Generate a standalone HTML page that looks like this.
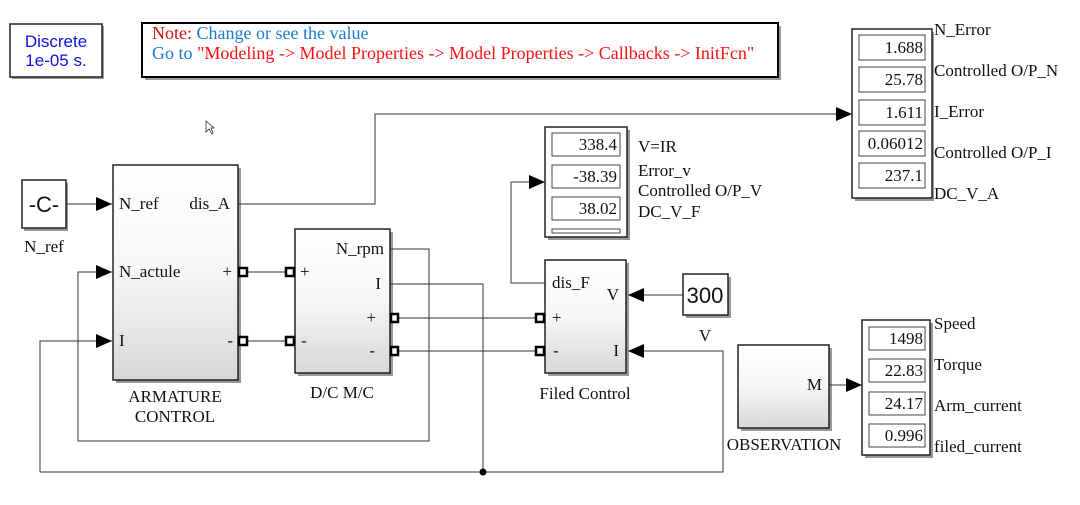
<!DOCTYPE html>
<html><head><meta charset="utf-8"><style>
body{margin:0;background:#fff;width:1080px;height:500px;overflow:hidden}
svg text{font-family:"Liberation Serif",serif;font-size:17px;fill:#111}
.s{font-family:"Liberation Sans",sans-serif}
</style></head><body>
<svg width="1080" height="500" viewBox="0 0 1080 500">
<defs>
<linearGradient id="g" x1="0" y1="0" x2="0" y2="1"><stop offset="0" stop-color="#fff"/><stop offset="0.5" stop-color="#f6f6f6"/><stop offset="1" stop-color="#d8d8d8"/></linearGradient>
<marker id="a" markerWidth="16" markerHeight="14" refX="16" refY="7" orient="auto" markerUnits="userSpaceOnUse"><path d="M0,0 L16,7 L0,14 Z" fill="#000"/></marker>
</defs>
<g fill="#999"><rect x="12" y="26" width="92" height="53"/><rect x="145" y="26" width="636" height="54"/>
<rect x="24" y="183" width="44" height="48"/><rect x="116" y="168" width="125" height="215"/><rect x="298" y="232" width="95" height="144"/><rect x="548" y="263" width="81" height="113"/><rect x="686" y="277" width="45" height="41"/><rect x="548" y="130" width="82" height="110"/><rect x="855" y="32" width="79" height="169"/><rect x="741" y="348" width="91" height="83"/><rect x="865" y="323" width="68" height="135"/></g>
<rect x="10" y="24" width="92" height="53" fill="#fff" stroke="#222" stroke-width="1.5"/>
<text x="56" y="47" text-anchor="middle" class="s" style="fill:#1010e0;font-size:17px">Discrete</text>
<text x="56" y="66" text-anchor="middle" class="s" style="fill:#1010e0;font-size:17px">1e-05 s.</text>
<rect x="142" y="23" width="636" height="54" fill="#fff" stroke="#000" stroke-width="2"/>
<text x="152" y="39" style="font-size:18px"><tspan style="fill:#d01010">Note: </tspan><tspan style="fill:#1a7ad0">Change or see the value</tspan></text>
<text x="152" y="59" style="font-size:18px"><tspan style="fill:#1a7ad0">Go to </tspan><tspan style="fill:#ff1010">"Modeling -&gt; Model Properties -&gt; Model Properties -&gt; Callbacks -&gt; InitFcn"</tspan></text>
<g fill="none" stroke="#333" stroke-width="1">
<path d="M66,204 H112" marker-end="url(#a)"/>
<path d="M238,204 H375 V114 H852" marker-end="url(#a)"/>
<path d="M390,249 H429 V441 H78 V272 H112" marker-end="url(#a)"/>
<path d="M390,284 H483 V472"/>
<path d="M40,472 V341 H112" marker-end="url(#a)"/>
<path d="M40,472 H723 V351 H628" marker-end="url(#a)"/>
<path d="M248,272 H285 M248,341 H285 M398,318 H535 M398,351 H535"/>
<path d="M545,283 H511 V182 H545" marker-end="url(#a)"/>
<path d="M683,295 H628" marker-end="url(#a)"/>
<path d="M829,385 H862" marker-end="url(#a)"/>
</g>
<circle cx="483" cy="472" r="3.5" fill="#000"/>
<rect x="22" y="180" width="44" height="48" fill="#fff" stroke="#222" stroke-width="1.5"/>
<text x="44" y="212" text-anchor="middle" class="s" style="font-size:22px">-C-</text>
<text x="44" y="252" text-anchor="middle">N_ref</text>
<rect x="113" y="165" width="125" height="215" fill="url(#g)" stroke="#222" stroke-width="1.5"/>
<text x="119" y="209">N_ref</text><text x="119" y="277">N_actule</text><text x="119" y="346">I</text>
<text x="230" y="209" text-anchor="end">dis_A</text><text x="232" y="277" text-anchor="end">+</text><text x="233" y="346" text-anchor="end">-</text>
<text x="175" y="402" text-anchor="middle">ARMATURE</text><text x="175" y="422" text-anchor="middle">CONTROL</text>
<rect x="295" y="229" width="95" height="144" fill="url(#g)" stroke="#222" stroke-width="1.5"/>
<text x="300" y="277">+</text><text x="301" y="346">-</text>
<text x="384" y="254" text-anchor="end">N_rpm</text><text x="381" y="289" text-anchor="end">I</text><text x="376" y="323" text-anchor="end">+</text><text x="375" y="356" text-anchor="end">-</text>
<text x="342" y="398" text-anchor="middle">D/C M/C</text>
<rect x="545" y="260" width="81" height="113" fill="url(#g)" stroke="#222" stroke-width="1.5"/>
<text x="552" y="288">dis_F</text><text x="552" y="323">+</text><text x="553" y="356">-</text>
<text x="619" y="300" text-anchor="end">V</text><text x="619" y="356" text-anchor="end">I</text>
<text x="585" y="399" text-anchor="middle">Filed Control</text>
<g fill="#fff" stroke="#000" stroke-width="2.5">
<rect x="239" y="268" width="8" height="8"/><rect x="239" y="337" width="8" height="8"/>
<rect x="286" y="268" width="8" height="8"/><rect x="286" y="337" width="8" height="8"/>
<rect x="391" y="314" width="7" height="8"/><rect x="391" y="347" width="7" height="8"/>
<rect x="536" y="314" width="8" height="8"/><rect x="536" y="347" width="8" height="8"/>
</g>
<rect x="683" y="274" width="45" height="41" fill="#fff" stroke="#222" stroke-width="1.5"/>
<text x="705" y="303" text-anchor="middle" class="s" style="font-size:22px">300</text>
<text x="705" y="341" text-anchor="middle">V</text>
<rect x="545" y="127" width="82" height="110" fill="#fff" stroke="#222" stroke-width="1.5"/>
<g fill="#fff" stroke="#444"><rect x="552" y="133" width="68" height="23"/><rect x="552" y="165" width="68" height="23"/><rect x="552" y="197" width="68" height="23"/><rect x="552" y="229" width="68" height="4"/></g>
<text x="617" y="150" text-anchor="end">338.4</text><text x="617" y="182" text-anchor="end">-38.39</text><text x="617" y="214" text-anchor="end">38.02</text>
<text x="638" y="152">V=IR</text><text x="638" y="176">Error_v</text><text x="638" y="196">Controlled O/P_V</text><text x="638" y="217">DC_V_F</text>
<rect x="852" y="29" width="80" height="169" fill="#fff" stroke="#222" stroke-width="1.5"/>
<g fill="#fff" stroke="#444"><rect x="859" y="35" width="66" height="25"/><rect x="859" y="67" width="66" height="25"/><rect x="859" y="100" width="66" height="25"/><rect x="859" y="131" width="66" height="25"/><rect x="859" y="163" width="66" height="25"/></g>
<text x="923" y="53" text-anchor="end">1.688</text><text x="923" y="85" text-anchor="end">25.78</text><text x="923" y="118" text-anchor="end">1.611</text><text x="923" y="149" text-anchor="end">0.06012</text><text x="923" y="181" text-anchor="end">237.1</text>
<text x="934" y="35">N_Error</text><text x="934" y="76">Controlled O/P_N</text><text x="934" y="117">I_Error</text><text x="934" y="158">Controlled O/P_I</text><text x="934" y="199">DC_V_A</text>
<rect x="738" y="345" width="91" height="83" fill="url(#g)" stroke="#222" stroke-width="1.5"/>
<text x="822" y="390" text-anchor="end">M</text>
<text x="784" y="450" text-anchor="middle">OBSERVATION</text>
<rect x="862" y="320" width="68" height="135" fill="#fff" stroke="#222" stroke-width="1.5"/>
<g fill="#fff" stroke="#444"><rect x="869" y="327" width="56" height="23"/><rect x="869" y="359" width="56" height="23"/><rect x="869" y="392" width="56" height="23"/><rect x="869" y="424" width="56" height="23"/></g>
<text x="923" y="344" text-anchor="end">1498</text><text x="923" y="376" text-anchor="end">22.83</text><text x="923" y="409" text-anchor="end">24.17</text><text x="923" y="441" text-anchor="end">0.996</text>
<text x="934" y="329">Speed</text><text x="934" y="370">Torque</text><text x="934" y="411">Arm_current</text><text x="934" y="452">filed_current</text>
<path d="M206,121 L206,132 L209,129 L212,134 L213,133 L211,128 L214,128 Z" fill="#fff" stroke="#333" stroke-width="0.8"/>
</svg>
</body></html>
